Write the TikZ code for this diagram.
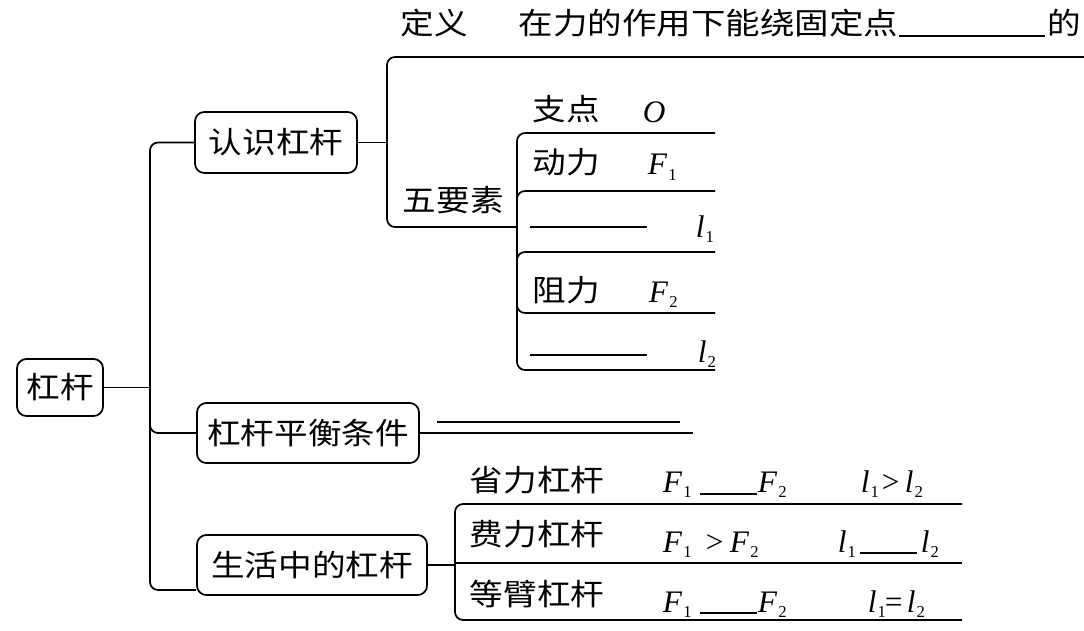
\documentclass[tikz,border=0pt]{standalone}
\usetikzlibrary{calc}
\usepackage{fontspec}
\setmainfont{Liberation Serif}
\newfontfamily\cjk[FakeStretch=1.12]{Noto Sans CJK SC}
\newfontfamily\cjkwide[FakeStretch=1.15]{Noto Sans CJK SC}
\newcommand\mysub[1]{\raisebox{-3.8pt}{\fontsize{12.5}{13}\selectfont\upshape #1}}
\newcommand\vv[2]{\textit{#1}\kern0.8pt\mysub{#2}}
\begin{document}
\begin{tikzpicture}[x=0.75pt,y=-0.75pt,line width=1.3pt,
  box/.style={draw,rounded corners=7pt,inner sep=0pt,font=\cjk\fontsize{22.5}{26}\selectfont},
  ct/.style={anchor=base west,inner sep=0pt,font=\cjk\fontsize{22.5}{26}\selectfont},
  lt/.style={anchor=base west,inner sep=0pt,font=\fontsize{23.5}{26}\selectfont},
  conn/.style={rounded corners=6pt},
  blank/.style={line width=1.1pt}]
\useasboundingbox (0,0) rectangle (1084,631);

% boxes
\node[box,minimum width=64.5pt,minimum height=42.75pt] (root) at (60,387.5) {杠杆};
\node[box,minimum width=121.5pt,minimum height=45.75pt] (b1) at (276,142.5) {认识杠杆};
\node[box,minimum width=166.5pt,minimum height=45pt] (b2) at (308,433) {杠杆平衡条件};
\node[box,minimum width=172.5pt,minimum height=45pt] (b3) at (312,565) {生活中的杠杆};

% trunk
\coordinate (tTop) at (150,143);
\coordinate (tBot) at (150,590);
\coordinate (tMid) at (150,418);
\draw (root.east) -- (root.east -| tTop);
\draw[conn] (b1.west) -- (b1.west -| tTop) -- (tBot) -- (b3.west |- tBot);
\draw[conn] (tMid) |- (b2.west);

% definition bracket
\coordinate (k1) at (387,57);
\coordinate (k1end) at (1084,57);
\coordinate (k1bot) at (387,227);
\coordinate (k2join) at (517,227);
\draw (b1.east) -- (b1.east -| k1);
\draw[conn] (k1end) -- (k1) -- (k1bot) -- (k2join);
\node[ct] (defl) at (400,35) {定义};
\node[ct,font=\cjkwide\fontsize{22.5}{26}\selectfont] (deft) at (518,35) {在力的作用下能绕固定点};
\draw[blank] (899,36) -- (1045,36);
\node[ct] (defe) at (1047,35) {的};
\node[ct] (five) at (402,211) {五要素};

% five elements bracket
\coordinate (e0) at (517,133);
\coordinate (e1) at (517,191);
\coordinate (e2) at (517,252);
\coordinate (e3) at (517,313);
\coordinate (e4) at (517,370);
\draw[conn] (715,133) -- (e0) -- (e4) -- (715,370);
\draw[conn] ($(e1)+(0,12)$) -- (e1) -- (715,191);
\draw[conn] ($(e2)+(0,12)$) -- (e2) -- (715,252);
\draw[conn] ($(e3)+(0,-12)$) -- (e3) -- (715,313);
\node[ct] (fulc) at (532,121) {支点};
\node[lt] (fulcO) at (642,123) {\textit{O}};
\node[ct] (eff) at (532,173) {动力};
\node[lt] (effF) at (647,175) {\vv{F}{1}};
\draw[blank] (530,227) -- (647,227);
\node[lt] (arm1) at (695,237) {\vv{l}{1}};
\node[ct] (res) at (532,301) {阻力};
\node[lt] (resF) at (648,302) {\vv{F}{2}};
\draw[blank] (530,355) -- (647,355);
\node[lt] (arm2) at (697,362) {\vv{l}{2}};

% balance condition
\draw (b2.east) -- (693,433);
\draw (437,422) -- (680,422);

% levers in life
\coordinate (k3t) at (455,504);
\coordinate (k3m) at (455,563);
\coordinate (k3b) at (455,620);
\draw (b3.east) -- (b3.east -| k3m);
\draw[conn] (962,504) -- (k3t) -- (k3b) -- (962,620);
\draw (k3m) -- (962,563);

\node[ct] (r1) at (469,491) {省力杠杆};
\node[lt] (r1a) at (662,492) {\vv{F}{1}};
\draw[blank] (700,494) -- (757,494);
\node[lt] (r1b) at (757,492) {\vv{F}{2}};
\node[lt] (r1c) at (860,492) {\vv{l}{1}};
\node[lt] (r1d) at (881,492) {>};
\node[lt] (r1e) at (904,492) {\vv{l}{2}};

\node[ct] (r2) at (469,545) {费力杠杆};
\node[lt] (r2a) at (662,552) {\vv{F}{1}};
\node[lt] (r2b) at (705,552) {>};
\node[lt] (r2c) at (729,552) {\vv{F}{2}};
\node[lt] (r2d) at (837,552) {\vv{l}{1}};
\draw[blank] (860,553) -- (917,553);
\node[lt] (r2e) at (920,552) {\vv{l}{2}};

\node[ct] (r3) at (469,605) {等臂杠杆};
\node[lt] (r3a) at (662,612) {\vv{F}{1}};
\draw[blank] (700,613) -- (757,613);
\node[lt] (r3b) at (757,612) {\vv{F}{2}};
\node[lt] (r3c) at (867,612) {\vv{l}{1}};
\node[lt] (r3d) at (884,612) {=};
\node[lt] (r3e) at (906,612) {\vv{l}{2}};
\end{tikzpicture}
\end{document}
